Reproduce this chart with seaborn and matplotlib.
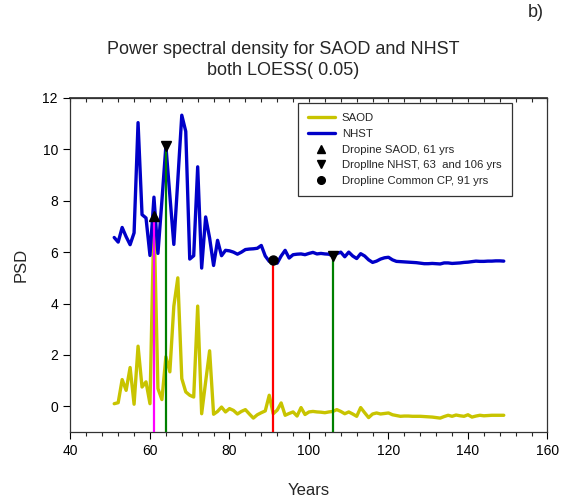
import numpy as np
import pandas as pd
import matplotlib
matplotlib.use("Agg")
import matplotlib.pyplot as plt
from matplotlib.lines import Line2D
from matplotlib.ticker import MultipleLocator
import seaborn as sns

years = list(range(51, 150))
saod = [0.1, 0.14, 1.04, 0.62, 1.51, 0.08, 2.34, 0.75, 0.95, 0.1,
        7.4, 0.69, 0.26, 1.93, 1.34, 3.9, 5.0, 1.08, 0.56, 0.43,
        0.36, 3.9, -0.29, 0.95, 2.16, -0.31, -0.2, -0.03, -0.22, -0.09,
        -0.16, -0.3, -0.2, -0.13, -0.3, -0.46, -0.33, -0.25, -0.18, 0.43,
        -0.29, -0.15, 0.13, -0.35, -0.28, -0.22, -0.38, -0.05, -0.32, -0.22,
        -0.2, -0.22, -0.23, -0.25, -0.22, -0.2, -0.13, -0.2, -0.29, -0.22,
        -0.3, -0.39, -0.05, -0.25, -0.44, -0.3, -0.26, -0.3, -0.28, -0.26,
        -0.33, -0.36, -0.39, -0.38, -0.38, -0.39, -0.39, -0.39, -0.4, -0.41,
        -0.42, -0.44, -0.46, -0.4, -0.35, -0.39, -0.34, -0.37, -0.39, -0.33,
        -0.42, -0.38, -0.35, -0.37, -0.36, -0.35, -0.35, -0.35, -0.35]
nhst = [6.57, 6.39, 6.96, 6.6, 6.29, 6.75, 11.04, 7.46, 7.33, 5.87,
        8.14, 5.95, 8.0, 10.13, 8.2, 6.3, 8.8, 11.33, 10.7, 5.73,
        5.86, 9.32, 5.38, 7.37, 6.55, 5.48, 6.46, 5.86, 6.07, 6.05,
        6.0, 5.92, 6.0, 6.1, 6.12, 6.13, 6.15, 6.26, 5.85, 5.64,
        5.7, 5.57, 5.85, 6.07, 5.77, 5.9, 5.92, 5.93, 5.9, 5.95,
        5.99, 5.93, 5.95, 5.93, 5.92, 5.85, 5.94, 6.0, 5.82, 6.0,
        5.85, 5.75, 5.94, 5.85, 5.7, 5.6, 5.65, 5.73, 5.78, 5.8,
        5.7, 5.64, 5.63, 5.62, 5.61, 5.6, 5.59, 5.57, 5.55, 5.55,
        5.56, 5.55, 5.54, 5.58, 5.58, 5.56, 5.57, 5.58, 5.6, 5.61,
        5.63, 5.65, 5.64, 5.64, 5.65, 5.65, 5.66, 5.66, 5.65]

drop_saod_years = [61]
drop_nhst_years = [64, 106]
drop_common_years = [91]

series_names = ["SAOD", "NHST"]
legend_labels = ["SAOD", "NHST", "Dropine SAOD, 61 yrs",
                 "Dropllne NHST, 63  and 106 yrs", "Dropline Common CP, 91 yrs"]

sns.set_theme(style="ticks")
plt.rcParams["font.family"] = ["Liberation Sans", "DejaVu Sans"]

df = pd.DataFrame({
    "Years": years * 2,
    "PSD": saod + nhst,
    "series": ["SAOD"] * len(years) + ["NHST"] * len(years),
})

fig = plt.figure(figsize=(5.67, 5.04), dpi=100)
ax = fig.add_axes([0.1243, 0.1429, 0.8413, 0.6627])

palette = {"SAOD": "#C8C400", "NHST": "#0000C8"}
sns.lineplot(data=df, x="Years", y="PSD", hue="series", palette=palette,
             linewidth=2.4, ax=ax, legend=False, zorder=2)

ymin = -1
yr_idx = {y: i for i, y in enumerate(years)}
# droplines
for y in drop_saod_years:
    ax.vlines(y, ymin, saod[yr_idx[y]], color="#FF00FF", linewidth=1.6, zorder=3)
for y, c in zip(drop_nhst_years, ["#008000", "#008000"]):
    ax.vlines(y, ymin, nhst[yr_idx[y]], color=c, linewidth=1.6, zorder=3)
for y in drop_common_years:
    ax.vlines(y, ymin, nhst[yr_idx[y]], color="#FF0000", linewidth=1.6, zorder=3)

ax.plot(drop_saod_years, [saod[yr_idx[y]] for y in drop_saod_years], "^",
        color="black", markersize=7, zorder=4)
ax.plot(drop_nhst_years, [nhst[yr_idx[y]] for y in drop_nhst_years], "v",
        color="black", markersize=7, zorder=4)
ax.plot(drop_common_years, [nhst[yr_idx[y]] for y in drop_common_years], "o",
        color="black", markersize=6.5, zorder=4)

ax.set_xlim(40, 160)
ax.set_ylim(-1, 12)
ax.set_xticks(range(40, 161, 20))
ax.xaxis.set_minor_locator(MultipleLocator(4))
ax.set_yticks(range(0, 13, 2))
ax.tick_params(axis="both", which="major", direction="out", length=5,
               width=0.8, labelsize=10, colors="black", pad=4)
ax.tick_params(axis="x", which="minor", direction="out", length=3, width=0.8)
for s in ax.spines.values():
    s.set_visible(True)
    s.set_color("#333333")
    s.set_linewidth(0.9)

sec = ax.secondary_xaxis("top")
sec.set_xticks(range(40, 161, 20))
sec.xaxis.set_minor_locator(MultipleLocator(4))
sec.tick_params(which="both", direction="in", length=3, width=0.8, labeltop=False)
sec.spines["top"].set_color("#333333")

ax.set_xlabel("Years", fontsize=12, labelpad=18)
ax.set_ylabel("PSD", fontsize=12, labelpad=10)

fig.text(0.5, 0.881, "Power spectral density for SAOD and NHST\nboth LOESS( 0.05)",
         ha="center", va="center", fontsize=13, linespacing=1.3)
fig.text(0.93, 0.975, "b)", ha="left", va="center", fontsize=13)

handles = [
    Line2D([], [], color=palette["SAOD"], linewidth=2.4),
    Line2D([], [], color=palette["NHST"], linewidth=2.4),
    Line2D([], [], color="black", marker="^", linestyle="none", markersize=6),
    Line2D([], [], color="black", marker="v", linestyle="none", markersize=6),
    Line2D([], [], color="black", marker="o", linestyle="none", markersize=5.5),
]
leg = ax.legend(handles, legend_labels, loc="upper left",
                bbox_to_anchor=(0.476, 0.985), fontsize=8.2, frameon=True,
                fancybox=False, edgecolor="#333333", framealpha=1,
                handlelength=2.4, handletextpad=0.6, labelspacing=0.5,
                borderpad=0.9, borderaxespad=0)
leg.get_frame().set_linewidth(0.9)

fig.savefig("out.png", dpi=100)
